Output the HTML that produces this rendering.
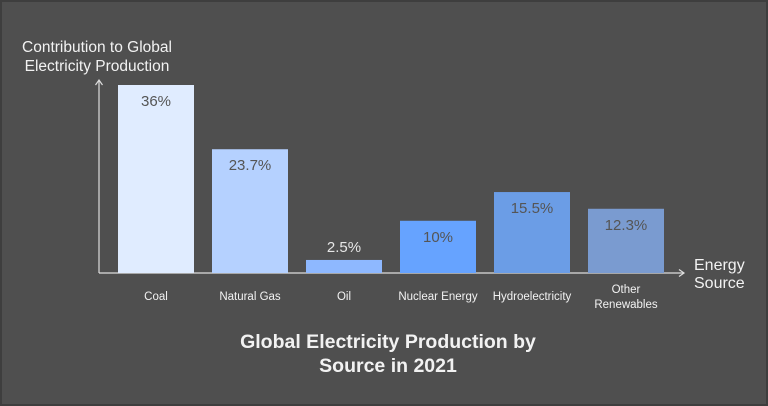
<!DOCTYPE html>
<html><head><meta charset="utf-8"><style>
body{margin:0;background:#4f4f4f}
svg{display:block;font-family:"Liberation Sans",sans-serif}
</style></head><body>
<svg id="c" width="768" height="406">
<rect x="1" y="1" width="766" height="404" fill="#4f4f4f" stroke="#3e3e3e" stroke-width="2"/>
<text x="97" y="52" fill="#f2f2f2" font-size="15.5" text-anchor="middle"><tspan x="97">Contribution to Global</tspan><tspan x="97" dy="19">Electricity Production</tspan></text>
<line x1="99" y1="273" x2="99" y2="80" stroke="#ddd" stroke-width="1.2"/>
<path d="M95.5 85 L99 80 L102.5 85" fill="none" stroke="#ddd" stroke-width="1.2"/>
<line x1="99" y1="273" x2="684" y2="273" stroke="#ddd" stroke-width="1.2"/>
<path d="M679 269.5 L684 273 L679 276.5" fill="none" stroke="#ddd" stroke-width="1.2"/>
<text x="694" y="270" fill="#f2f2f2" font-size="16"><tspan x="694">Energy</tspan><tspan x="694" dy="18">Source</tspan></text>
<g id="bars"></g>
<text x="388" y="348" fill="#f2f2f2" font-size="19.5" font-weight="bold" text-anchor="middle"><tspan x="388">Global Electricity Production by</tspan><tspan x="388" dy="24">Source in 2021</tspan></text>
</svg>
<script>
const categories=["Coal","Natural Gas","Oil","Nuclear Energy","Hydroelectricity","Other Renewables"];
const values=[36,23.7,2.5,10,15.5,12.3];
const valueLabels=["36%","23.7%","2.5%","10%","15.5%","12.3%"];
const colors=["#e0ecff","#b5d1ff","#8eb8ff","#66a3ff","#6b9de6","#7a9bd0"];
const NS="http://www.w3.org/2000/svg";
const g=document.getElementById("bars");
const y=v=>273-v*(188/36);
const x=i=>118+i*94;
categories.forEach((c,i)=>{
 const r=document.createElementNS(NS,"rect");
 r.setAttribute("x",x(i));r.setAttribute("y",y(values[i]));
 r.setAttribute("width",76);r.setAttribute("height",273-y(values[i]));
 r.setAttribute("fill",colors[i]);
 
 
 g.appendChild(r);
 const t=document.createElementNS(NS,"text");
 const small=(273-y(values[i]))<30;
 t.setAttribute("x",x(i)+38);t.setAttribute("y",small?y(values[i])-8:y(values[i])+21);
 t.setAttribute("text-anchor","middle");t.setAttribute("font-size","15");t.setAttribute("fill",small?"#e6e6e6":"#555");
 t.textContent=valueLabels[i];
 
 
 g.appendChild(t);
 const l=document.createElementNS(NS,"text");
 l.setAttribute("text-anchor","middle");l.setAttribute("font-size","11.5");l.setAttribute("fill","#f2f2f2");
 const parts=c==="Other Renewables"?["Other","Renewables"]:[c];
 const y0=parts.length>1?293:300;
 parts.forEach((p,k)=>{const s=document.createElementNS(NS,"tspan");s.setAttribute("x",x(i)+38);s.setAttribute("y",y0+k*15);s.textContent=p;l.appendChild(s);});
 
 
 g.appendChild(l);
});
</script>
</body></html>
